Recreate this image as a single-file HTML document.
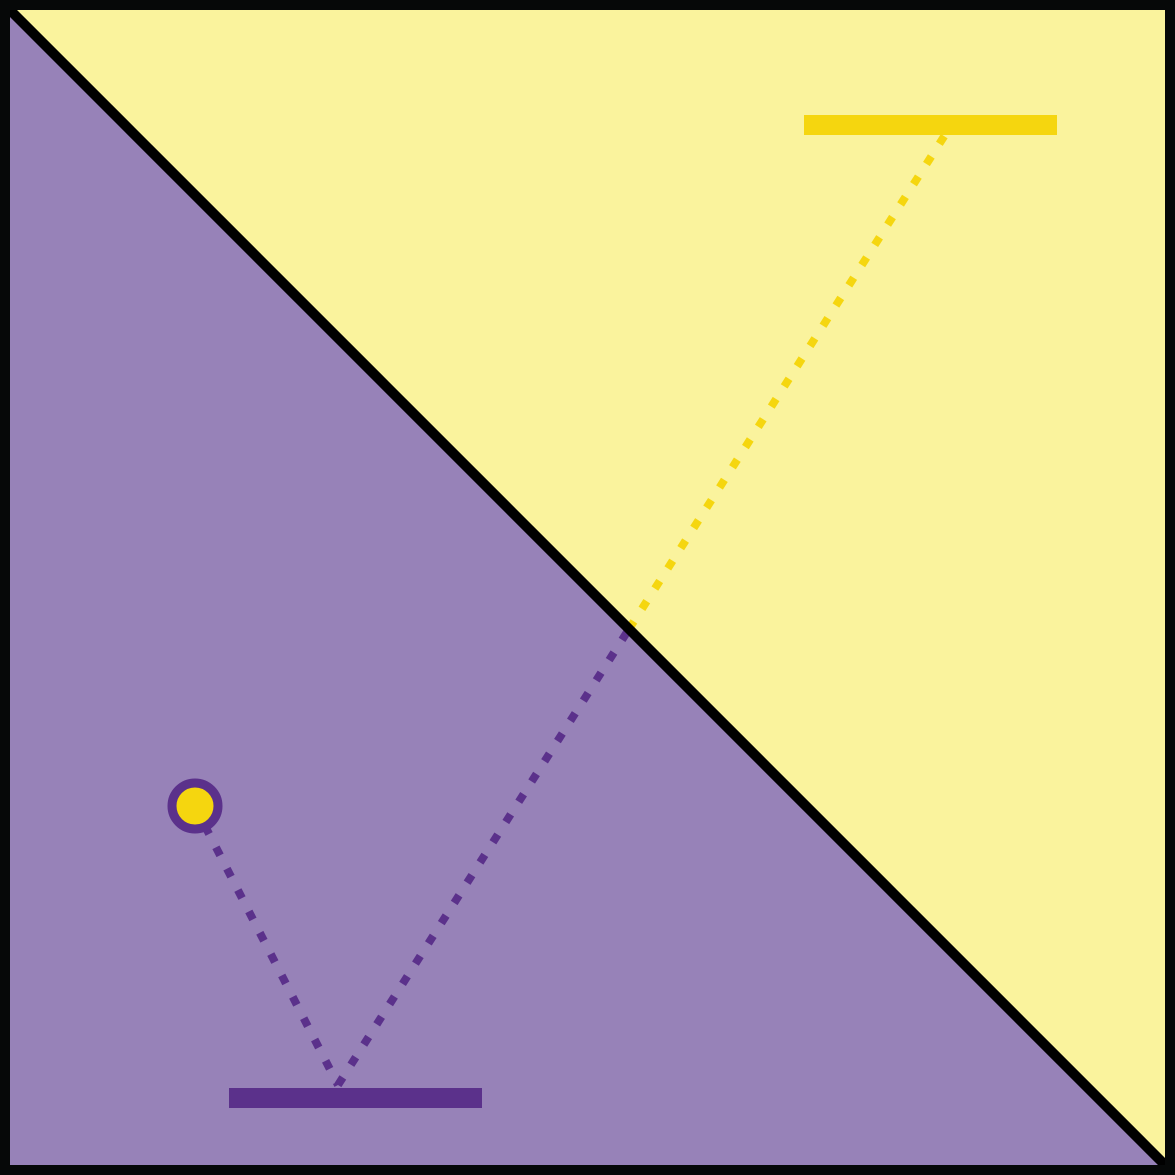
<!DOCTYPE html>
<html><head><meta charset="utf-8"><style>html,body{margin:0;padding:0;background:#fff}svg{display:block}</style></head>
<body>
<svg width="1175" height="1175" viewBox="0 0 1175 1175">
  <polygon points="5,5 1170,5 1170,1170" fill="#FAF39D"/>
  <polygon points="5,5 5,1170 1170,1170" fill="#9782B8"/>
  <line x1="205" y1="826" x2="338" y2="1085" stroke="#5B318B" stroke-width="8" stroke-dasharray="9 15"/>
  <line x1="338" y1="1085" x2="629" y2="629" stroke="#5B318B" stroke-width="8" stroke-dasharray="9 15"/>
  <line x1="629" y1="629" x2="945" y2="135" stroke="#F5D60F" stroke-width="8" stroke-dasharray="9 15"/>
  <rect x="804" y="115" width="253" height="20" fill="#F5D60F"/>
  <rect x="229" y="1088" width="253" height="20" fill="#5B318B"/>
  <circle cx="195" cy="806" r="23" fill="#F5D60F" stroke="#5B318B" stroke-width="9"/>
  <line x1="5" y1="5" x2="1170" y2="1170" stroke="#000" stroke-width="10"/>
  <rect x="5" y="5" width="1165" height="1165" fill="none" stroke="#060808" stroke-width="10"/>
</svg>
</body></html>
